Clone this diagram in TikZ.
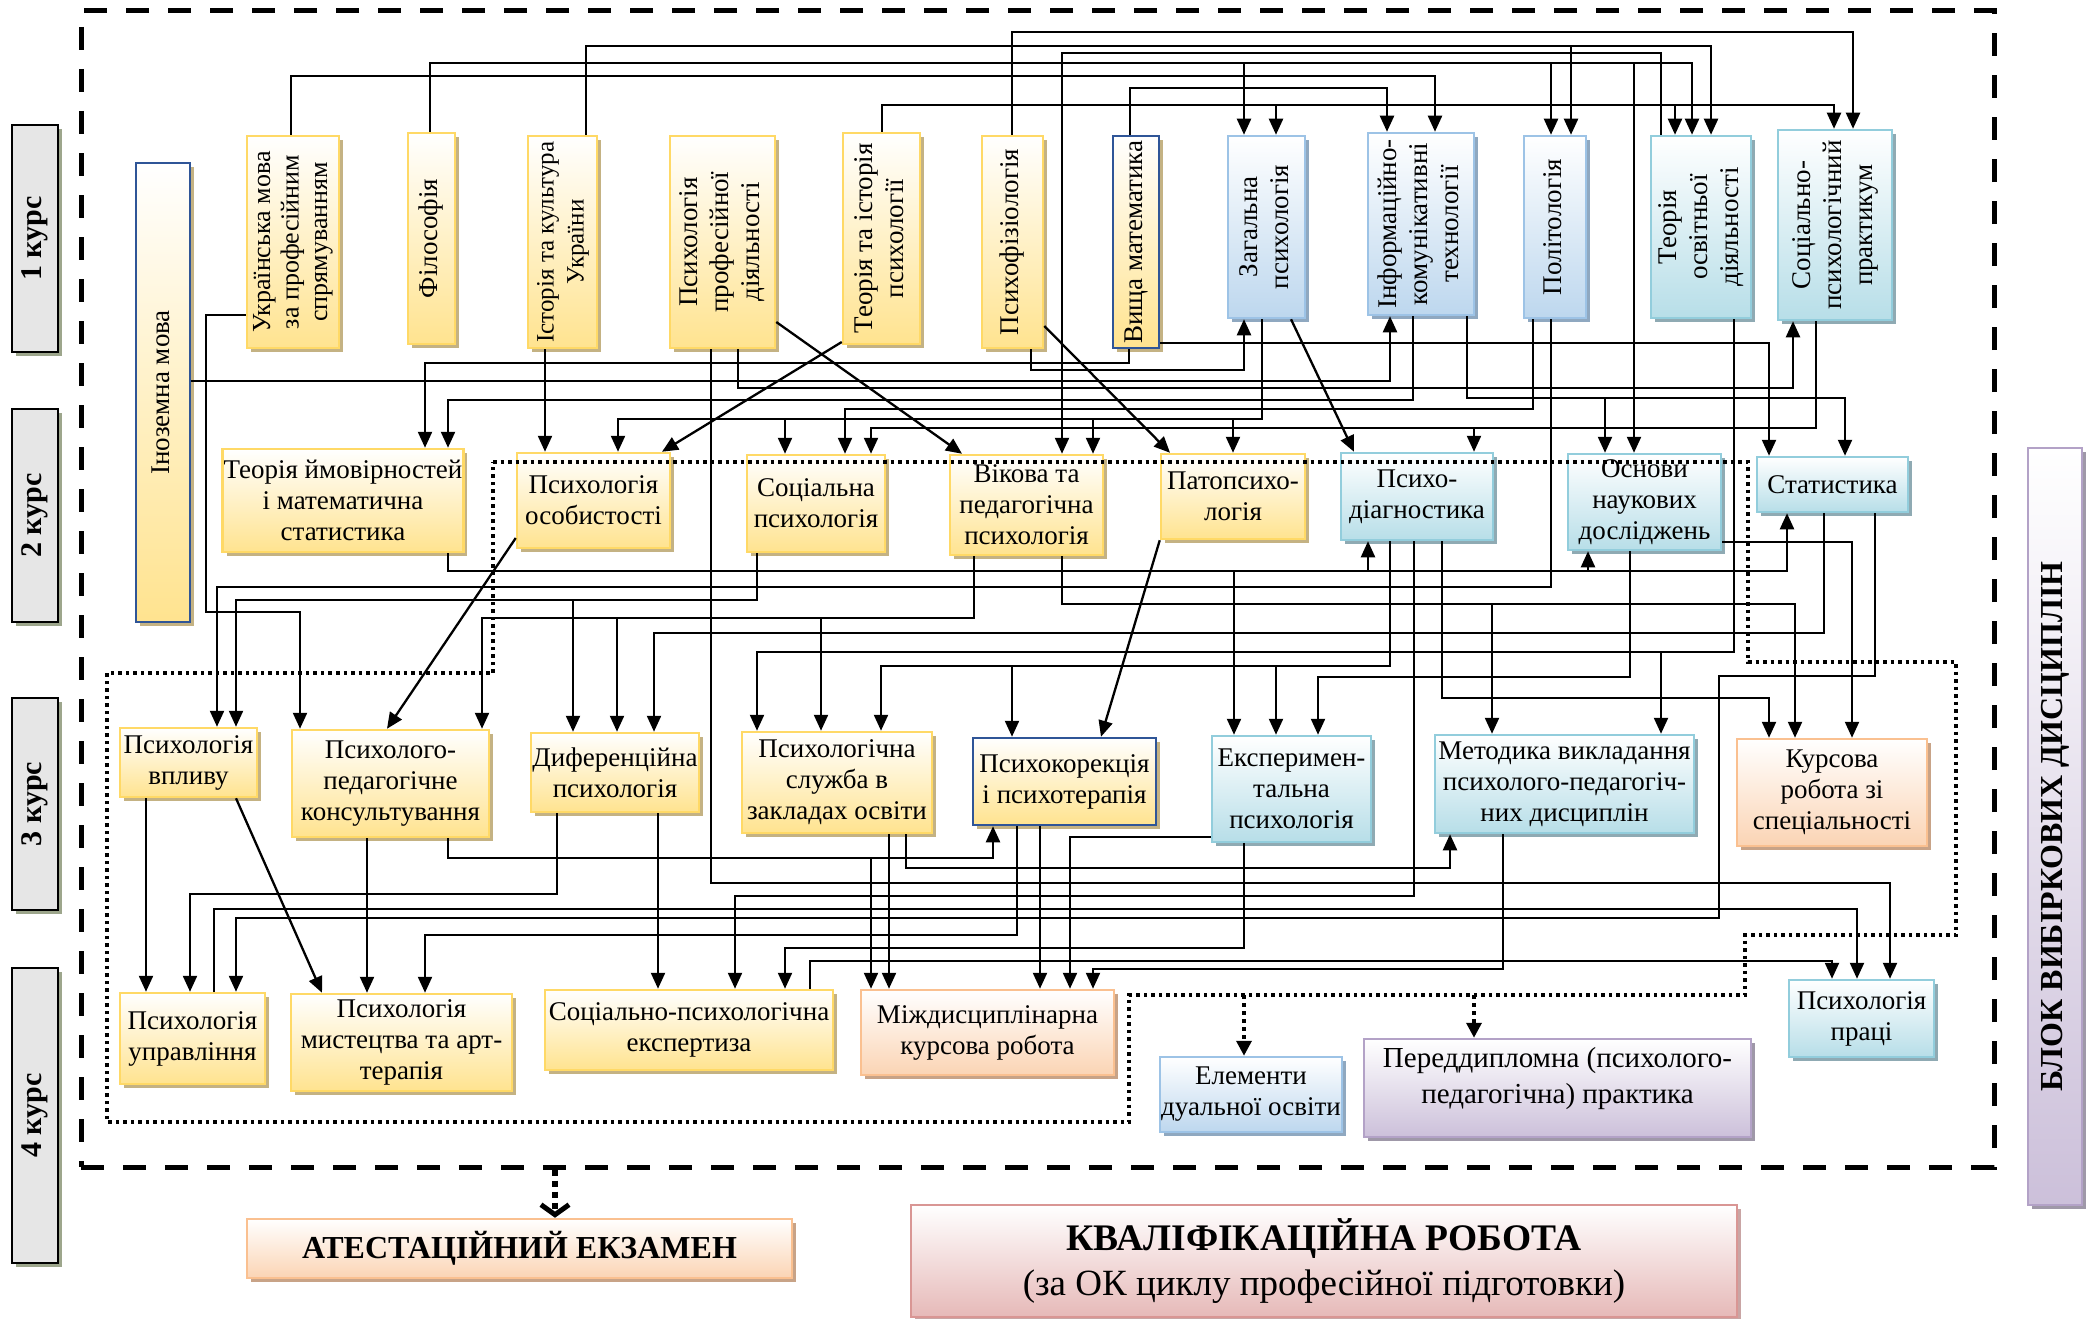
\documentclass[tikz,border=0pt]{standalone}
\usepackage{fontspec}
\setmainfont{Liberation Serif}
\usepackage{graphicx}
\usetikzlibrary{arrows.meta,shadows}

\definecolor{yelB}{HTML}{FFD966}
\definecolor{yelF}{HTML}{FFE38F}
\definecolor{yelS}{HTML}{C4B283}
\definecolor{bluB}{HTML}{9DC3E6}
\definecolor{bluF}{HTML}{BDD7EE}
\definecolor{bluS}{HTML}{8FA8C0}
\definecolor{teaB}{HTML}{92CDDC}
\definecolor{teaF}{HTML}{B7DEE8}
\definecolor{teaS}{HTML}{8FAAB3}
\definecolor{oraB}{HTML}{FAC090}
\definecolor{oraF}{HTML}{FBD4B4}
\definecolor{oraS}{HTML}{C8A387}
\definecolor{purB}{HTML}{B3A2C7}
\definecolor{purF}{HTML}{CCC0DA}
\definecolor{purS}{HTML}{9F98A8}
\definecolor{pnkB}{HTML}{D99694}
\definecolor{pnkF}{HTML}{E6B9B8}
\definecolor{pnkS}{HTML}{C9A5A4}
\definecolor{dbB}{HTML}{2F5597}
\definecolor{grF}{HTML}{E6E6E6}
\definecolor{grS}{HTML}{9DA68C}

\newcommand\fs{\fontsize{27}{31}\selectfont}
\newcommand\rt[2][\fs]{\rotatebox{90}{#1\begin{tabular}{@{}c@{}}#2\end{tabular}}}
\newcommand\mybox[7]{\node[#1, minimum width={(#5-#3)*1pt}, minimum height={(#6-#4)*1pt}] (#2) at ({(#3+#5)/2},{(#4+#6)/2}) {#7};}

\tikzset{
  bb/.style={draw, line width=2.5pt, inner sep=1pt, align=center, font=\fs, text=black},
  yel/.style={bb, draw=yelB, top color=white, bottom color=yelF, drop shadow={shadow xshift=4pt, shadow yshift=-4pt, fill=yelS, opacity=1}},
  ydb/.style={yel, draw=dbB},
  blu/.style={bb, draw=bluB, top color=white, bottom color=bluF, drop shadow={shadow xshift=4pt, shadow yshift=-4pt, fill=bluS, opacity=1}},
  tea/.style={bb, draw=teaB, top color=white, bottom color=teaF, drop shadow={shadow xshift=4pt, shadow yshift=-4pt, fill=teaS, opacity=1}},
  ora/.style={bb, draw=oraB, top color=white, bottom color=oraF, drop shadow={shadow xshift=4pt, shadow yshift=-4pt, fill=oraS, opacity=1}},
  pur/.style={bb, draw=purB, top color=white, bottom color=purF, drop shadow={shadow xshift=4pt, shadow yshift=-4pt, fill=purS, opacity=1}},
  pnk/.style={bb, draw=pnkB, top color=white, bottom color=pnkF, drop shadow={shadow xshift=4pt, shadow yshift=-4pt, fill=pnkS, opacity=1}},
  kurs/.style={draw=black, line width=2.5pt, fill=grF, inner sep=0pt, font=\fontsize{30}{34}\selectfont\bfseries, drop shadow={shadow xshift=4pt, shadow yshift=-4pt, fill=grS, opacity=1}},
  con/.style={line width=2.3pt, draw=black},
  arr/.style={con, -{Triangle[length=16pt,width=14pt]}},
  dotb/.style={line width=3.5pt, dash pattern=on 3.5pt off 4pt},
  dotarr/.style={line width=3.5pt, dash pattern=on 4pt off 4pt, -{Triangle[length=15pt,width=15pt]}},
  bigdot/.style={line width=6pt, dash pattern=on 6pt off 5pt, -{Straight Barb[length=10pt,width=28pt,line width=5pt]}},
  outerb/.style={draw, line width=5pt, dash pattern=on 23pt off 19pt, inner sep=0pt}
}

\begin{document}
\begin{tikzpicture}[x=1pt, y=-1pt, line join=miter]
\useasboundingbox (0,0) rectangle (2091,1319);

\node[outerb, minimum width=1913pt, minimum height=1156pt] (outer) at (1037.5,589) {};

% course labels
\mybox{kurs}{k1}{12}{125}{58}{352}{\rotatebox{90}{1 курс}}
\mybox{kurs}{k2}{12}{409}{58}{622}{\rotatebox{90}{2 курс}}
\mybox{kurs}{k3}{12}{698}{58}{910}{\rotatebox{90}{3 курс}}
\mybox{kurs}{k4}{12}{968}{58}{1263}{\rotatebox{90}{4 курс}}

% 1st year
\mybox{ydb}{inoz}{136}{163}{190}{622}{\rt{Іноземна мова}}
\mybox{yel}{ukr}{247}{136}{339}{348}{\rt[\fontsize{26}{28.5}\selectfont]{Українська мова\\за професійним\\спрямуванням}}
\mybox{yel}{fil}{408}{133}{455}{344}{\rt{Філософія}}
\mybox{yel}{ist}{528}{136}{597}{348}{\rt[\fontsize{25}{30}\selectfont]{Історія та культура\\України}}
\mybox{yel}{ppd}{670}{136}{775}{348}{\rt{Психологія\\професійної\\діяльності}}
\mybox{yel}{tip}{843}{133}{920}{344}{\rt{Теорія та історія\\психології}}
\mybox{yel}{pfz}{982}{136}{1043}{348}{\rt{Психофізіологія}}
\mybox{ydb}{vm}{1113}{136}{1159}{348}{\rt{Вища математика}}
\mybox{blu}{zag}{1228}{136}{1305}{318}{\rt{Загальна\\психологія}}
\mybox{blu}{ikt}{1368}{133}{1474}{315}{\rt{Інформаційно-\\комунікативні\\технології}}
\mybox{blu}{pol}{1524}{136}{1586}{318}{\rt{Політологія}}
\mybox{tea}{tod}{1651}{136}{1751}{318}{\rt{Теорія\\освітньої\\діяльності}}
\mybox{tea}{spp}{1778}{130}{1892}{320}{\rt{Соціально-\\психологічний\\практикум}}

% 2nd year
\mybox{yel}{tim}{223}{449}{463}{552}{Теорія ймовірностей\\і математична\\статистика}
\mybox{yel}{pos}{517}{453}{670}{548}{Психологія\\особистості}
\mybox{yel}{sots}{747}{455}{885}{552}{Соціальна\\психологія}
\mybox{yel}{vik}{950}{455}{1103}{555}{Вікова та\\педагогічна\\психологія}
\mybox{yel}{pat}{1161}{454}{1305}{539}{Патопсихо-\\логія}
\mybox{tea}{pd}{1341}{453}{1493}{540}{Психо-\\діагностика}
\mybox{tea}{onr}{1568}{454}{1721}{550}{Основи\\наукових\\досліджень}
\mybox{tea}{stat}{1757}{457}{1908}{512}{Статистика}

% 3rd year
\mybox{yel}{vpl}{120}{728}{257}{797}{Психологія\\впливу}
\mybox{yel}{ppk}{292}{730}{489}{837}{Психолого-\\педагогічне\\консультування}
\mybox{yel}{dif}{531}{733}{699}{812}{Диференційна\\психологія}
\mybox{yel}{psl}{742}{732}{932}{833}{Психологічна\\служба в\\закладах освіти}
\mybox{ydb}{pkt}{973}{738}{1156}{825}{Психокорекція\\і психотерапія}
\mybox{tea}{eks}{1212}{736}{1371}{842}{Експеримен-\\тальна\\психологія}
\mybox{tea}{met}{1435}{735}{1694}{833}{Методика викладання\\психолого-педагогіч-\\них дисциплін}
\mybox{ora}{kur}{1737}{739}{1927}{846}{Курсова\\робота зі\\спеціальності}

% 4th year
\mybox{yel}{upr}{120}{993}{265}{1084}{Психологія\\управління}
\mybox{yel}{mys}{291}{994}{512}{1091}{Психологія\\мистецтва та арт-\\терапія}
\mybox{yel}{spe}{545}{990}{833}{1070}{Соціально-психологічна\\експертиза}
\mybox{ora}{mkr}{861}{990}{1114}{1075}{Міждисциплінарна\\курсова робота}
\mybox{blu}{dua}{1160}{1057}{1342}{1132}{Елементи\\дуальної освіти}
\mybox{pur, font=\fontsize{29}{36}\selectfont}{pdp}{1364}{1039}{1751}{1137}{Переддипломна (психолого-\\педагогічна) практика\\[-10pt]}
\mybox{tea}{pra}{1789}{980}{1934}{1057}{Психологія\\праці}

% bottom
\mybox{ora, font=\fontsize{32}{36}\selectfont\bfseries}{ate}{247}{1219}{792}{1278}{АТЕСТАЦІЙНИЙ ЕКЗАМЕН}
\mybox{pnk, font=\fontsize{37}{45}\selectfont}{kva}{911}{1205}{1737}{1317}{{\fontsize{37.5}{45}\selectfont\bfseries КВАЛІФІКАЦІЙНА РОБОТА}\\(за ОК циклу професійної підготовки)}
\mybox{pur, font=\fontsize{32}{36}\selectfont\bfseries}{blok}{2028}{448}{2082}{1205}{\rotatebox{90}{БЛОК ВИБІРКОВИХ ДИСЦИПЛІН}}

% ---- connectors: 1st year top
\draw[arr] (ukr.north -| 291,0) |- (1435,76) -- (ikt.north -| 1435,0);
\foreach \x/\n in {1244/zag,1551/pol,1634/onr,1692/tod}
  \draw[arr] (fil.north -| 430,0) |- (\x,63) -- (\n.north -| \x,0);
\foreach \x/\n in {1571/pol,1711/tod}
  \draw[arr] (ist.north -| 586,0) |- (\x,46) -- (\n.north -| \x,0);
\foreach \x/\n in {1276/zag,1675/tod,1834/spp}
  \draw[arr] (tip.north -| 882,0) |- (\x,105) -- (\n.north -| \x,0);
\draw[arr] (pfz.north -| 1012,0) |- (1853,32) -- (spp.north -| 1853,0);
\draw[arr] (vm.north -| 1130,0) |- (1387,88) -- (ikt.north -| 1387,0);
\draw[arr] (tod.north -| 1661,0) |- (1062,53) -- (vik.north -| 1062,0);

% ---- 1st year bottom
\draw[arr] (ukr.west |- 0,315) -- (206,315) -- (206,612) -- (300,612) -- (ppk.north -| 300,0);
\draw[arr] (inoz.east |- 0,381) -| (ikt.south -| 1390,0);
\draw[arr] (vm.south -| 1129,0) |- (425,363) -- (tim.north -| 425,0);
\draw[arr] (ikt.south -| 1413,0) |- (448,400) -- (tim.north -| 448,0);
\draw[arr] (pfz.south -| 1031,0) |- (1244,370) -- (zag.south -| 1244,0);
\draw[arr] (ppd.south -| 738,0) |- (1793,388) -- (spp.south -| 1793,0);
\foreach \x/\n in {1605/onr,1845/stat}
  \draw[arr] (ikt.south -| 1467,0) |- (\x,398) -- (\n.north -| \x,0);
\draw[arr] (vm.east |- 0,343) -- (1769,343) -- (stat.north -| 1769,0);
\draw[arr] (pol.south -| 1533,0) |- (845,409) -- (sots.north -| 845,0);
\foreach \x/\n in {618/pos,785/sots,1093/vik,1233/pat}
  \draw[arr] (zag.south -| 1262,0) |- (\x,419) -- (\n.north -| \x,0);
\foreach \x/\n in {871/sots,1474/pd}
  \draw[arr] (spp.south -| 1816,0) |- (\x,428) -- (\n.north -| \x,0);
\draw[arr] (ist.south -| 545,0) -- (pos.north -| 545,0);
\draw[arr] (ppd.east |- 0,322) -- (vik.north -| 962,0);
\draw[arr] (tip.west |- 0,342) -- (pos.north -| 662,0);
\draw[arr] (pfz.east |- 0,326) -- (pat.north -| 1170,0);
\draw[arr] (zag.south -| 1291,0) -- (pd.north -| 1354,0);
\draw[arr] (ppd.south -| 711,0) |- (1890,883) -- (pra.north -| 1890,0);

% ---- 2nd year outputs
\draw[arr] (tim.south -| 448,0) |- (1368,571) -- (pd.south -| 1368,0);
\draw[arr] (tim.south -| 448,0) |- (1234,571) -- (eks.north -| 1234,0);
\draw[arr] (tim.south -| 448,0) |- (1588,571) -- (onr.south -| 1588,0);
\draw[arr] (tim.south -| 448,0) |- (1787,571) -- (stat.south -| 1787,0);
\draw[arr] (pol.south -| 1551,0) |- (217,587) -- (vpl.north -| 217,0);
\foreach \x/\n in {236/vpl,573/dif}
  \draw[arr] (sots.south -| 757,0) |- (\x,600) -- (\n.north -| \x,0);
\foreach \x/\n in {482/ppk,617/dif,821/psl}
  \draw[arr] (vik.south -| 974,0) |- (\x,618) -- (\n.north -| \x,0);
\draw[arr] (stat.south -| 1824,0) |- (654,633) -- (dif.north -| 654,0);
\foreach \x/\n in {757/psl,1661/met}
  \draw[arr] (tod.south -| 1734,0) |- (\x,652) -- (\n.north -| \x,0);
\foreach \x/\n in {881/psl,1012/pkt,1276/eks}
  \draw[arr] (pd.south -| 1390,0) |- (\x,666) -- (\n.north -| \x,0);
\draw[arr] (pat.south west) -- (pkt.north -| 1101,0);
\draw[arr] (onr.south -| 1630,0) |- (1318,677) -- (eks.north -| 1318,0);
\draw[arr] (stat.south -| 1875,0) |- (1719,676) -- (1719,918) -- (236,918) -- (upr.north -| 236,0);
\draw[arr] (pd.south -| 1442,0) |- (1769,698) -- (kur.north -| 1769,0);
\foreach \x/\n in {1492/met,1795/kur}
  \draw[arr] (vik.south -| 1062,0) |- (\x,604) -- (\n.north -| \x,0);
\draw[arr] (onr.east |- 0,542) -- (1852,542) -- (kur.north -| 1852,0);
\draw[arr] (pd.south -| 1414,0) |- (735,896) -- (spe.north -| 735,0);
\draw[arr] (pos.west |- 0,538) -- (ppk.north -| 387,0);

% ---- 3rd year outputs
\draw[arr] (ppk.south -| 448,0) |- (993,858) -- (pkt.south -| 993,0);
\draw[arr] (ppk.south -| 448,0) |- (871,858) -- (mkr.north -| 871,0);
\draw[arr] (psl.south -| 906,0) |- (1450,868) -- (met.south -| 1450,0);
\draw[arr] (psl.south -| 889,0) -- (mkr.north -| 889,0);
\draw[arr] (eks.west |- 0,837) -- (1070,837) -- (mkr.north -| 1070,0);
\draw[arr] (eks.south -| 1244,0) |- (785,948) -- (spe.north -| 785,0);
\draw[arr] (met.south -| 1503,0) |- (1093,969) -- (mkr.north -| 1093,0);
\draw[arr] (pkt.south -| 1017,0) |- (425,935) -- (mys.north -| 425,0);
\draw[arr] (pkt.south -| 1040,0) -- (mkr.north -| 1040,0);
\draw[arr] (dif.south -| 557,0) |- (190,894) -- (upr.north -| 190,0);
\draw[arr] (dif.south -| 658,0) -- (spe.north -| 658,0);
\draw[arr] (vpl.south -| 146,0) -- (upr.north -| 146,0);
\draw[arr] (vpl.south -| 236,0) -- (mys.north -| 322,0);
\draw[arr] (ppk.south -| 367,0) -- (mys.north -| 367,0);
\draw[arr] (upr.north -| 214,0) |- (1857,909) -- (pra.north -| 1857,0);
\draw[arr] (spe.north -| 810,0) |- (1832,961) -- (pra.north -| 1832,0);

% ---- elective block (dotted)
\draw[dotb] (493,462) -- (1748,462) -- (1748,662) -- (1956,662) -- (1956,935) -- (1745,935) -- (1745,995) -- (1129,995) -- (1129,1122) -- (107,1122) -- (107,673) -- (493,673) -- cycle;
\coordinate (e1) at (1244,995);
\coordinate (e2) at (1474,995);
\draw[dotarr] (e1) -- (dua.north -| e1);
\draw[dotarr] (e2) -- (pdp.north -| e2);
\draw[bigdot] (outer.south -| 555,0) -- (ate.north -| 555,0);
\end{tikzpicture}
\end{document}
